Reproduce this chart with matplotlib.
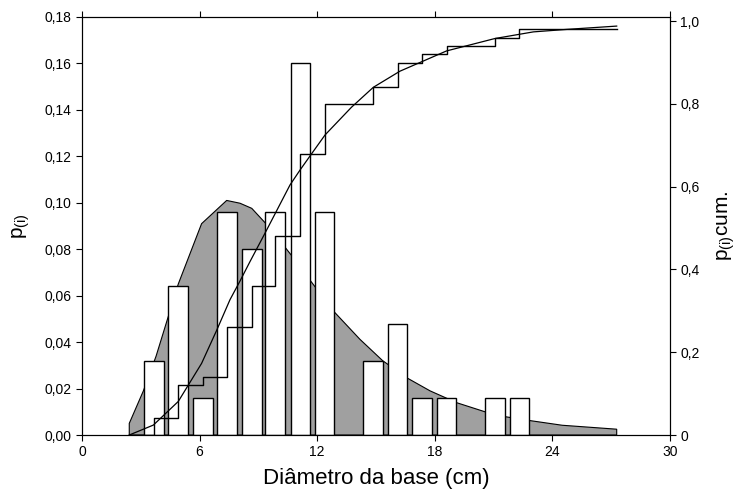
import matplotlib
matplotlib.use('Agg')
import matplotlib.pyplot as plt
from matplotlib.ticker import FuncFormatter

plt.rcParams['font.family'] = ['Liberation Sans', 'DejaVu Sans']
plt.rcParams['mathtext.fontset'] = 'custom'
plt.rcParams['mathtext.rm'] = 'Liberation Sans'

# observed class frequencies (bars)
class_centers = [3.67, 4.9, 6.16, 7.4, 8.66, 9.86, 11.14, 12.38,
                 14.86, 16.1, 17.35, 18.6, 21.07, 22.32]
p_obs = [0.032, 0.064, 0.016, 0.096, 0.080, 0.096, 0.160, 0.096,
         0.032, 0.048, 0.016, 0.016, 0.016, 0.016]

# fitted density (gray area)
dens_x = [2.41, 2.41, 3.13, 3.78, 4.4, 4.91, 6.1, 7.38, 8.06, 8.66, 9.34,
          10.4, 11.0, 11.63, 12.87, 14.18, 15.34, 16.62, 17.76, 19.12,
          20.56, 21.58, 22.86, 24.5, 27.28, 27.28]
dens_y = [0.0, 0.005, 0.019, 0.034, 0.051, 0.065, 0.091, 0.101, 0.0998,
          0.0976, 0.0914, 0.0804, 0.074, 0.0667, 0.053, 0.0412, 0.032,
          0.0244, 0.019, 0.0139, 0.010, 0.0079, 0.0062, 0.0042, 0.0025, 0.0]

# observed cumulative (step)
cum_x = [2.41, 3.67, 4.9, 6.16, 7.4, 8.66, 9.86, 11.14, 12.38,
         14.86, 16.1, 17.35, 18.6, 21.07, 22.32, 27.28]
cum_y = [0.0, 0.04, 0.12, 0.14, 0.26, 0.36, 0.48, 0.68, 0.80,
         0.84, 0.90, 0.92, 0.94, 0.96, 0.98, 0.98]

# fitted cumulative (smooth curve)
fit_x = [2.41, 3.64, 4.91, 6.1, 6.87, 7.55, 8.06, 8.57, 9.34, 10.61, 11.12,
         11.72, 12.4, 13.75, 14.86, 16.22, 18.6, 21.07, 23.03, 24.73, 27.28]
fit_y = [0.0, 0.024, 0.081, 0.173, 0.253, 0.327, 0.372, 0.419, 0.488, 0.604,
         0.64, 0.68, 0.725, 0.792, 0.84, 0.879, 0.928, 0.958, 0.974, 0.98, 0.988]

fig = plt.figure(figsize=(7.37, 4.95), dpi=100)
ax = fig.add_axes([0.1113, 0.1212, 0.7978, 0.8445])

ax.fill(dens_x, dens_y, facecolor='#a0a0a0', edgecolor='black', lw=0.8, zorder=1)
ax.bar(class_centers, p_obs, width=1.0, color='white', edgecolor='black', lw=1.0, zorder=2)

ax.set_xlim(0, 30)
ax.set_ylim(0, 0.18)
ax.set_xticks([0, 6, 12, 18, 24, 30])
ax.set_yticks([i * 0.02 for i in range(10)])
ax.yaxis.set_major_formatter(FuncFormatter(lambda v, p: f'{v:.2f}'.replace('.', ',')))
ax.tick_params(axis='both', direction='out', length=4, labelsize=10, top=True)
ax.set_xlabel('Diâmetro da base (cm)', fontsize=16, labelpad=6)
ax.set_ylabel(r'p$_{\mathregular{(i)}}$', fontsize=15, labelpad=9)

ax2 = ax.twinx()
ax2.step(cum_x, cum_y, where='post', color='black', lw=1.0)
ax2.plot(fit_x, fit_y, color='black', lw=0.9)
ax2.set_ylim(0, 1.01)
ax2.set_yticks([0, 0.2, 0.4, 0.6, 0.8, 1.0])
ax2.yaxis.set_major_formatter(FuncFormatter(
    lambda v, p: '0' if v == 0 else f'{v:.1f}'.replace('.', ',')))
ax2.tick_params(axis='y', direction='out', length=4, labelsize=10)
ax2.set_ylabel(r'p$_{\mathregular{(i)}}$cum.', fontsize=15, labelpad=11)

fig.savefig('out.png', dpi=100)
